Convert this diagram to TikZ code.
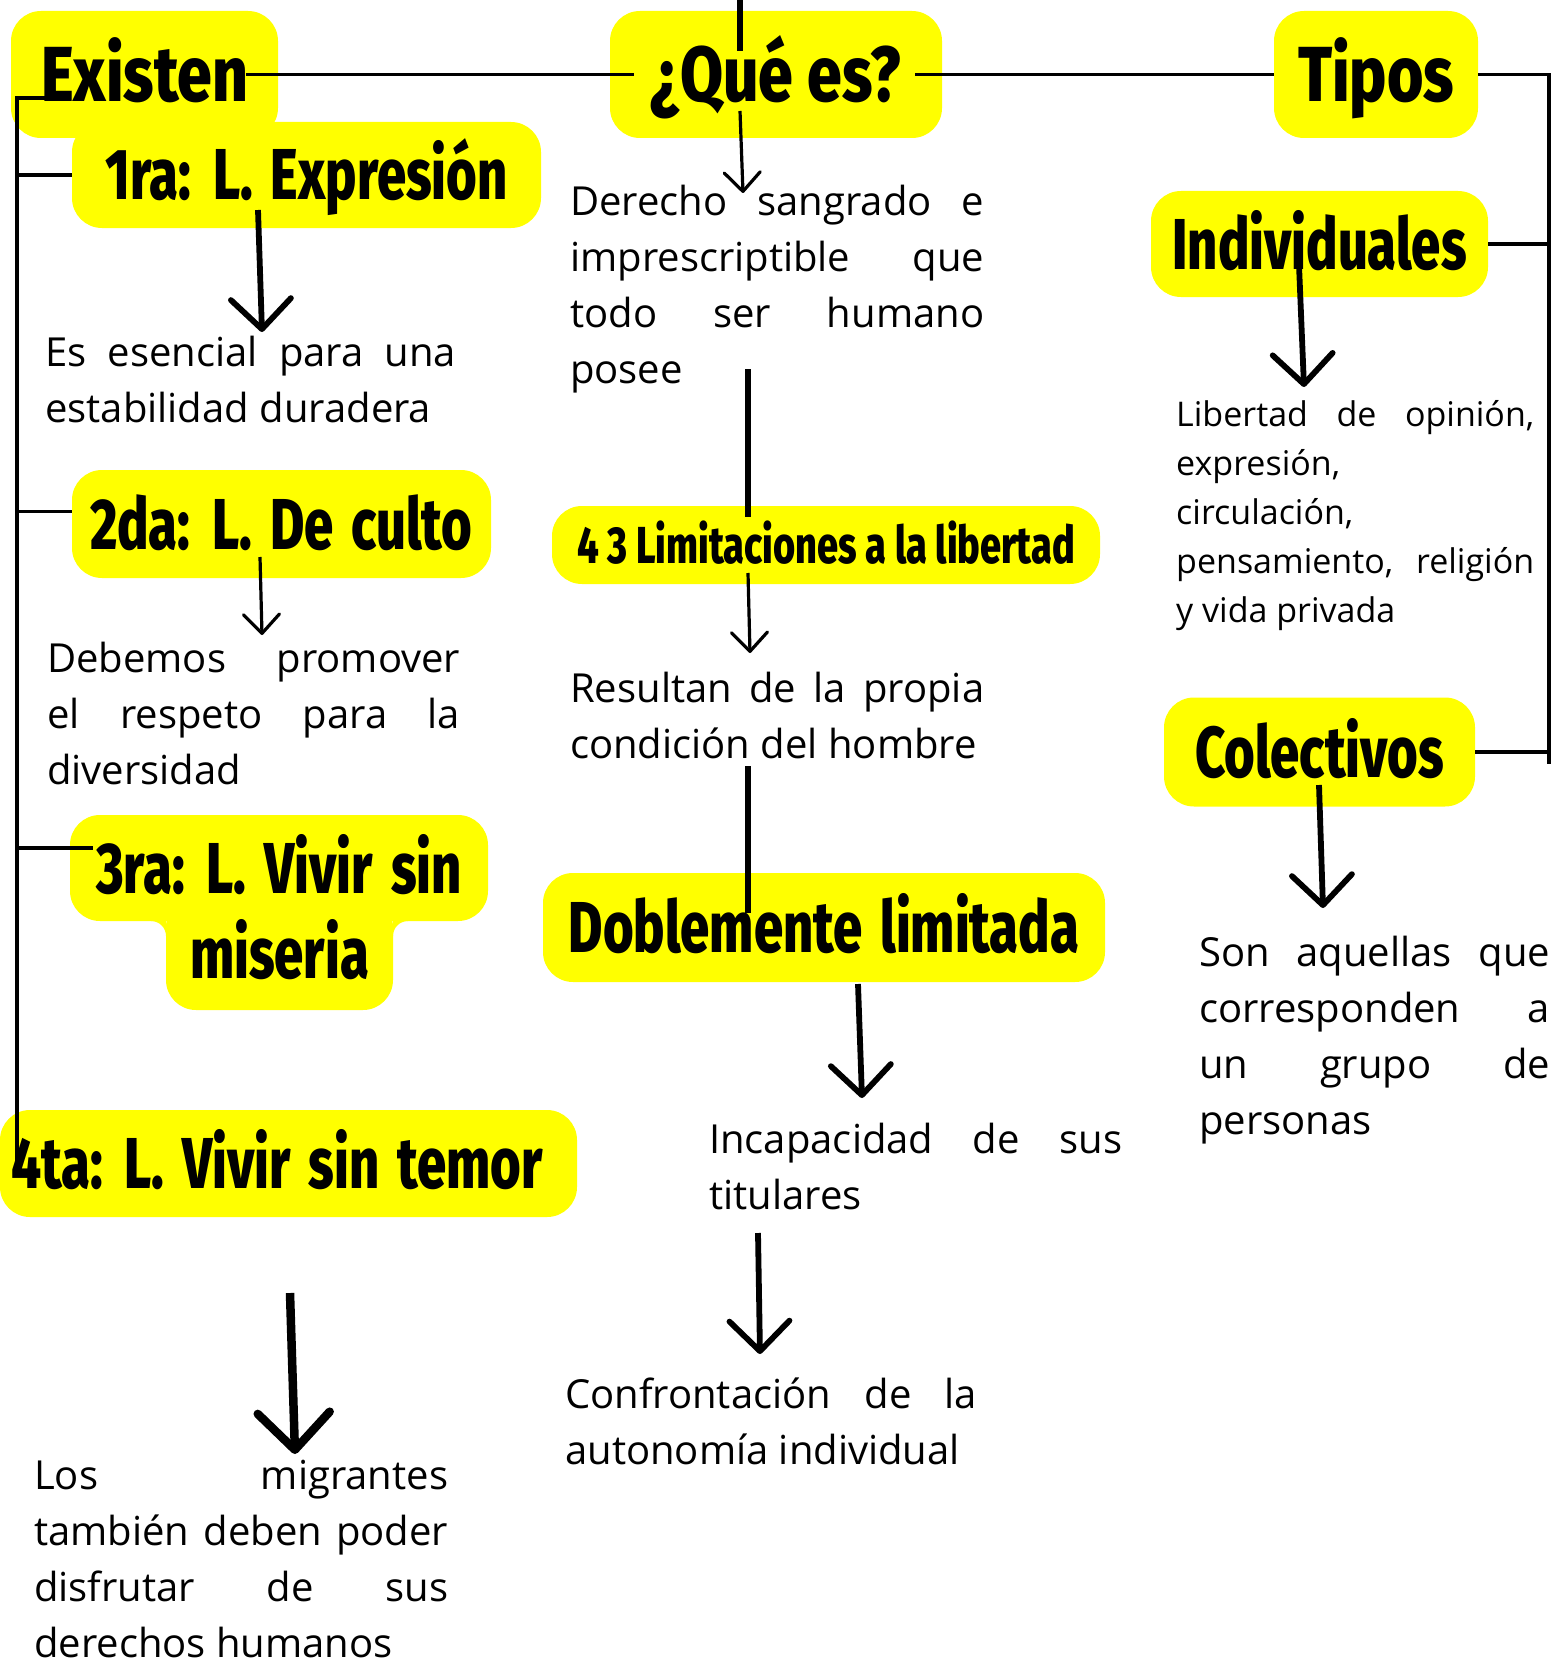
\documentclass[tikz,border=0pt]{standalone}
\usepackage{fontspec}
\setmainfont{Open Sans}
\newfontfamily\titlefont[FakeStretch=0.73,BoldFont={Fira Sans ExtraBold}]{Fira Sans}
\newfontfamily\titlefontg[FakeStretch=0.8,BoldFont={Fira Sans ExtraBold}]{Fira Sans}
\newcommand\espacioancho{\spaceskip 18pt\relax}
\usetikzlibrary{arrows.meta}
\definecolor{amarillo}{RGB}{255,255,0}
\tolerance=10000
\hyphenpenalty=10000
\hbadness=10000

\begin{document}
\begin{tikzpicture}
  [x=1pt,y=-1pt,
   caja/.style={fill=amarillo,rounded corners=30pt,inner sep=0pt,text depth=0pt,
     font=\titlefont\bfseries\fontsize{72}{80}\selectfont\espacioancho,text height=50pt},
   cajag/.style={caja,font=\titlefontg\bfseries\fontsize{78}{86}\selectfont,text height=54pt},
   cajap/.style={caja,font=\titlefont\bfseries\fontsize{52}{60}\selectfont,text height=36pt},
   txt/.style={anchor=base west,inner sep=0pt,align=justify,font=\fontsize{40}{56}\selectfont},
   txtp/.style={txt,font=\fontsize{34}{49}\selectfont},
   linea/.style={line width=3.2pt},
   gruesa/.style={line width=6.4pt},
   flecha/.style={line width=5.8pt,-{Straight Barb[length=30pt,width=60pt,round]}},
   flechaf/.style={line width=3.2pt,-{Straight Barb[length=19pt,width=36pt,round]}},
   flechag/.style={line width=8.5pt,-{Straight Barb[length=37pt,width=72pt,round]}}]
  \useasboundingbox (0,0) rectangle (1558,1664);
  \node[cajag,minimum width=267pt,minimum height=127pt] (existen) at (144.5,74.5) {Existen};
  \node[cajag,minimum width=332pt,minimum height=127pt] (que) at (776,74.5) {¿Qué es?};
  \node[cajag,minimum width=204pt,minimum height=127pt] (tipos) at (1376,74.5) {Tipos};
  \node[caja,minimum width=469pt,minimum height=106pt] (lib1) at (306.5,175) {1ra: L. Expresión};
  \node[caja,minimum width=337pt,minimum height=106pt] (indiv) at (1319.5,244) {Individuales};
  \node[caja,minimum width=419pt,minimum height=108pt] (lib2) at (281.5,524) {2da: L. De culto};
  \node[cajap,minimum width=548pt,minimum height=78pt] (limit) at (826,545) {4 3 Limitaciones a la libertad};
  \node[caja,minimum width=311pt,minimum height=109pt] (colect) at (1319.5,752) {Colectivos};
  \node[caja,minimum width=418pt,minimum height=106pt] (lib3) at (279,868) {3ra: L. Vivir sin};
  \node[caja,minimum width=227pt,minimum height=113pt] (lib3b) at (279.5,953.5) {miseria};
  \fill[amarillo] (166,921) -- (166,936) .. controls (166,927.7) and (159.3,921) .. (151,921) -- cycle;
  \fill[amarillo] (393,921) -- (393,936) .. controls (393,927.7) and (399.7,921) .. (408,921) -- cycle;
  \node[caja,minimum width=562pt,minimum height=109pt] (dobl) at (824,927.5) {Doblemente limitada};
  \node[caja,inner xsep=11pt,minimum height=107pt] (lib4) at (288.5,1163.5) {\makebox[555pt][l]{4ta: L. Vivir sin temor}};

  \node[txt,text width=411pt] (esencial) at (45,366) {Es esencial para una\linebreak estabilidad duradera};
  \node[txt,text width=414pt] (derecho) at (570,215) {Derecho sangrado e\linebreak imprescriptible que\linebreak todo ser humano\linebreak posee};
  \node[txtp,text width=358pt] (libertad) at (1176,426) {Libertad de opinión,\linebreak expresión,\\ circulación,\\ pensamiento, religión\linebreak y vida privada};
  \node[txt,text width=413pt] (debemos) at (47,672) {Debemos promover\linebreak el respeto para la\linebreak diversidad};
  \node[txt,text width=414pt] (resultan) at (570,702) {Resultan de la propia\linebreak condición del hombre};
  \node[txt,text width=351pt] (aquellas) at (1199,966) {Son aquellas que\linebreak corresponden a\linebreak un grupo de\linebreak personas};
  \node[txt,text width=413pt] (incap) at (709,1153) {Incapacidad de sus\linebreak titulares};
  \node[txt,text width=412pt] (confront) at (565,1408) {Confrontación de la\linebreak autonomía individual};
  \node[txt,text width=414pt] (migrantes) at (34,1489) {Los migrantes\linebreak también deben poder\linebreak disfrutar de sus\linebreak derechos humanos};

  \coordinate (h1) at ([xshift=-32pt]existen.east);
  \coordinate (h2) at ([xshift=24pt]que.west);
  \coordinate (h3) at ([xshift=-27pt]que.east);
  \coordinate (r1) at (1549,764);
  \coordinate (e0) at (69,98);
  \coordinate (c4) at (17,1162);
  \coordinate (c2) at (17,511.5);
  \coordinate (c3) at (17,848);
  \coordinate (e3) at (93,848);
  \coordinate (t0) at (740,0);
  \coordinate (t1) at (740,51);
  \coordinate (m0) at (748,369);
  \coordinate (m1) at (748,517);
  \coordinate (m2) at (748,766);
  \coordinate (m3) at (748,913);
  \coordinate (q0) at (740,111);
  \coordinate (q1) at (743,193);
  \coordinate (a0) at (260,557);
  \coordinate (a1) at (262,635);
  \coordinate (b0) at (748,573);
  \coordinate (b1) at (750,653);
  \coordinate (f0) at (258,210);
  \coordinate (f1) at (262,332);
  \coordinate (f2) at (858,984);
  \coordinate (f3) at (862,1098);
  \coordinate (f4) at (758,1233);
  \coordinate (f5) at (760,1354);
  \coordinate (f6) at (1299,265);
  \coordinate (f7) at (1304,387);
  \coordinate (f8) at (1319,785);
  \coordinate (f9) at (1323,908);
  \coordinate (g0) at (290,1293);
  \coordinate (g1) at (295,1454);

  \draw[linea] (tipos.east) -| (r1);
  \draw[linea] (e0) -| (c4);
  \foreach \from/\to in {h1/h2,h3/tipos.west,indiv.east/indiv.east -| r1,colect.east/colect.east -| r1,lib1.west -| c4/lib1.west,c2/c2 -| lib2.west,c3/e3}
    \draw[linea] (\from) -- (\to);
  \foreach \from/\to in {t0/t1,m0/m1,m2/m3}
    \draw[gruesa] (\from) -- (\to);
  \foreach \from/\to in {q0/q1,a0/a1,b0/b1}
    \draw[flechaf] (\from) -- (\to);
  \foreach \from/\to in {f0/f1,f2/f3,f4/f5,f6/f7,f8/f9}
    \draw[flecha] (\from) -- (\to);
  \draw[flechag] (g0) -- (g1);
\end{tikzpicture}
\end{document}
